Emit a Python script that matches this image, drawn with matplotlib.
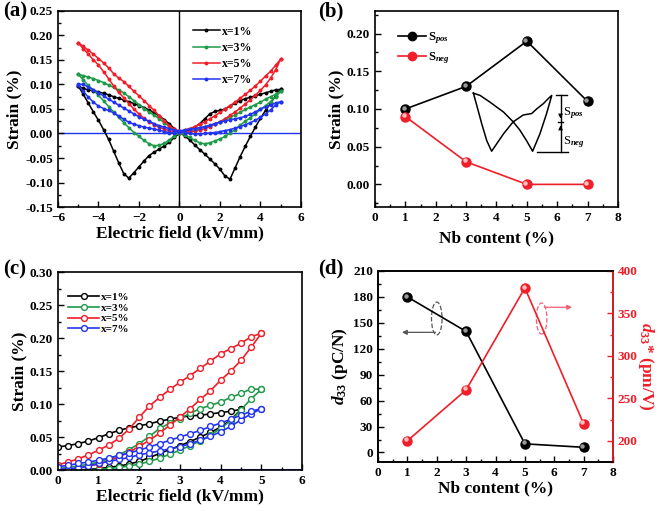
import numpy as np
import matplotlib
matplotlib.use("Agg")
import matplotlib.pyplot as plt
from matplotlib.patches import Ellipse
from matplotlib.ticker import MultipleLocator
from matplotlib.transforms import offset_copy

plt.rcParams['font.family'] = 'Liberation Serif'
plt.rcParams['font.weight'] = 'bold'
plt.rcParams['axes.labelweight'] = 'bold'
plt.rcParams['mathtext.fontset'] = 'custom'
plt.rcParams['mathtext.rm'] = 'Liberation Serif:bold'
plt.rcParams['mathtext.it'] = 'Liberation Serif:italic:bold'
plt.rcParams['mathtext.bf'] = 'Liberation Serif:bold'

# ---------------- data ----------------
labels = ['x=1%', 'x=3%', 'x=5%', 'x=7%']
colors = ['#000000', '#1e9a48', '#f01e28', '#2233f0']

# |E| grid (kV/mm) for the bipolar loops (a) and unipolar loops (c)
field = [0, 0.25, 0.5, 0.75, 1.0, 1.25, 1.5, 1.75, 2.0, 2.25, 2.5,
         2.75, 3.0, 3.25, 3.5, 3.75, 4.0, 4.25, 4.5, 4.75, 5.0]

# (a) bipolar strain (%), branches given along |E|
# right_low: 0 -> +5, right_up: +5 -> 0, left_low: 0 -> -5, left_up: -5 -> 0
a_right_low = [
    [0.003, -0.005, -0.013, -0.023, -0.033, -0.042, -0.052, -0.062, -0.073, -0.087, -0.093,
     -0.070, -0.047, -0.026, -0.006, 0.013, 0.031, 0.047, 0.062, 0.077, 0.090],
    [0.002, -0.003, -0.008, -0.014, -0.019, -0.021, -0.019, -0.015, -0.011, -0.006, 0.001,
     0.008, 0.017, 0.025, 0.032, 0.040, 0.049, 0.057, 0.065, 0.075, 0.086],
    [0.005, 0.004, 0.004, 0.005, 0.007, 0.010, 0.014, 0.019, 0.024, 0.030, 0.037,
     0.044, 0.052, 0.060, 0.069, 0.078, 0.088, 0.099, 0.113, 0.130, 0.152],
    [0.005, 0.002, 0.000, -0.001, -0.001, 0.000, 0.001, 0.002, 0.004, 0.006, 0.008,
     0.011, 0.014, 0.018, 0.022, 0.027, 0.033, 0.040, 0.048, 0.058, 0.065],
]
a_right_up = [
    [0.003, 0.004, 0.008, 0.013, 0.020, 0.030, 0.040, 0.045, 0.047, 0.050, 0.056,
     0.062, 0.067, 0.071, 0.074, 0.077, 0.080, 0.083, 0.086, 0.089, 0.090],
    [0.002, 0.002, 0.004, 0.007, 0.010, 0.013, 0.016, 0.020, 0.024, 0.029, 0.033,
     0.038, 0.043, 0.049, 0.054, 0.059, 0.064, 0.070, 0.075, 0.080, 0.086],
    [0.005, 0.007, 0.010, 0.014, 0.019, 0.024, 0.030, 0.036, 0.043, 0.050, 0.057,
     0.064, 0.072, 0.080, 0.088, 0.097, 0.107, 0.117, 0.127, 0.139, 0.152],
    [0.005, 0.007, 0.009, 0.010, 0.012, 0.014, 0.017, 0.020, 0.023, 0.026, 0.028,
     0.030, 0.032, 0.035, 0.039, 0.044, 0.050, 0.054, 0.058, 0.062, 0.065],
]
a_left_low = [
    [0.000, -0.008, -0.018, -0.025, -0.032, -0.038, -0.045, -0.056, -0.068, -0.080, -0.091,
     -0.082, -0.060, -0.036, -0.012, 0.008, 0.027, 0.044, 0.062, 0.080, 0.097],
    [0.002, -0.005, -0.013, -0.020, -0.024, -0.025, -0.021, -0.014, -0.006, 0.002, 0.012,
     0.022, 0.033, 0.044, 0.055, 0.067, 0.078, 0.088, 0.098, 0.109, 0.121],
    [0.004, 0.004, 0.006, 0.009, 0.013, 0.018, 0.024, 0.031, 0.040, 0.050, 0.061,
     0.073, 0.084, 0.097, 0.112, 0.126, 0.140, 0.150, 0.162, 0.173, 0.185],
    [0.004, 0.001, 0.002, 0.004, 0.007, 0.009, 0.011, 0.013, 0.016, 0.019, 0.023,
     0.029, 0.036, 0.042, 0.047, 0.051, 0.056, 0.064, 0.074, 0.086, 0.099],
]
a_left_up = [
    [0.003, 0.010, 0.020, 0.028, 0.036, 0.042, 0.048, 0.053, 0.057, 0.061, 0.065,
     0.068, 0.072, 0.075, 0.079, 0.082, 0.085, 0.087, 0.089, 0.092, 0.097],
    [0.002, 0.007, 0.014, 0.022, 0.030, 0.037, 0.044, 0.051, 0.059, 0.067, 0.075,
     0.083, 0.089, 0.094, 0.099, 0.104, 0.108, 0.112, 0.115, 0.118, 0.121],
    [0.004, 0.009, 0.016, 0.026, 0.036, 0.047, 0.057, 0.067, 0.077, 0.086, 0.096,
     0.106, 0.113, 0.122, 0.134, 0.144, 0.153, 0.162, 0.170, 0.178, 0.185],
    [0.004, 0.007, 0.010, 0.013, 0.016, 0.020, 0.025, 0.029, 0.034, 0.040, 0.046,
     0.052, 0.058, 0.064, 0.070, 0.077, 0.083, 0.089, 0.095, 0.100, 0.101],
]

# (b)
nb = [1, 3, 5, 7]
s_pos = [0.10, 0.13, 0.19, 0.11]
s_neg = [0.09, 0.03, 0.00, 0.00]
# inset sketch of a butterfly loop, in panel (b) data units
sketch_x = [3.24, 3.35, 3.51, 3.68, 3.84, 4.01, 4.23, 4.55, 4.88, 5.16, 5.32, 5.54, 5.71, 5.82,
            5.65, 5.43, 5.19, 4.99, 4.77, 4.55, 4.23, 3.79, 3.46, 3.24]
sketch_y = [0.121, 0.105, 0.081, 0.058, 0.044, 0.054, 0.067, 0.083, 0.092, 0.094, 0.100, 0.107,
            0.114, 0.118, 0.094, 0.067, 0.044, 0.058, 0.072, 0.083, 0.096, 0.109, 0.118, 0.121]

# (c) unipolar strain (%): rising 0 -> 5 and falling 5 -> 0, along E
c_rise = [
    [0.000, 0.000, 0.000, 0.001, 0.002, 0.004, 0.006, 0.009, 0.013, 0.019, 0.025,
     0.031, 0.037, 0.043, 0.050, 0.057, 0.065, 0.076, 0.092],
    [0.000, 0.000, 0.000, 0.000, 0.001, 0.002, 0.004, 0.006, 0.009, 0.013, 0.018,
     0.024, 0.030, 0.037, 0.044, 0.053, 0.063, 0.075, 0.091, 0.108, 0.122],
    [0.000, 0.001, 0.003, 0.006, 0.009, 0.014, 0.020, 0.027, 0.036, 0.045, 0.056,
     0.068, 0.080, 0.093, 0.107, 0.120, 0.136, 0.150, 0.166, 0.186, 0.207],
    [0.001, 0.002, 0.003, 0.006, 0.010, 0.013, 0.016, 0.019, 0.023, 0.026, 0.029,
     0.032, 0.035, 0.040, 0.045, 0.051, 0.058, 0.066, 0.076, 0.085, 0.093],
]
c_fall = [
    [0.035, 0.037, 0.040, 0.044, 0.049, 0.055, 0.060, 0.064, 0.067, 0.070, 0.074,
     0.077, 0.080, 0.082, 0.083, 0.085, 0.087, 0.089, 0.092],
    [0.002, 0.004, 0.006, 0.009, 0.012, 0.017, 0.023, 0.031, 0.040, 0.051, 0.063,
     0.071, 0.078, 0.086, 0.093, 0.098, 0.103, 0.110, 0.116, 0.123, 0.122],
    [0.008, 0.012, 0.017, 0.023, 0.030, 0.038, 0.048, 0.062, 0.080, 0.097, 0.110,
     0.122, 0.133, 0.143, 0.154, 0.165, 0.176, 0.184, 0.192, 0.202, 0.207],
    [0.005, 0.007, 0.010, 0.012, 0.015, 0.018, 0.022, 0.026, 0.030, 0.035, 0.040,
     0.045, 0.050, 0.055, 0.060, 0.066, 0.071, 0.077, 0.083, 0.089, 0.093],
]

# (d)
d33 = [180, 140, 10, 6]
d33_star = [200, 260, 380, 220]

LAB = 12.5


def style(ax, xmaj, xmin, ymaj, ymin):
    ax.xaxis.set_major_locator(MultipleLocator(xmaj))
    ax.xaxis.set_minor_locator(MultipleLocator(xmin))
    ax.yaxis.set_major_locator(MultipleLocator(ymaj))
    ax.yaxis.set_minor_locator(MultipleLocator(ymin))
    ax.tick_params(which='both', direction='in', labelsize=9.5, width=1)
    ax.tick_params(which='major', length=4)
    ax.tick_params(which='minor', length=2)
    for s in ax.spines.values():
        s.set_linewidth(1.2)


def balls(ax, x, y, c, hl):
    ax.plot(x, y, '-', color=c, lw=1.2, marker='o', ms=6.5, mfc=c, mec=c, zorder=3)
    tr = offset_copy(ax.transData, fig=fig, x=-1.0, y=1.0, units='points')
    ax.plot(x, y, 'o', ms=2.2, color=hl, transform=tr, zorder=4)


fig = plt.figure(figsize=(6.61, 5.11), dpi=100)

# ---------------- (a) ----------------
ax = fig.add_axes([0.0877, 0.5949, 0.3676, 0.3836])
f = np.array(field)
for i in range(4):
    e = np.concatenate([f, f[::-1], -f, -f[::-1]])
    s = np.concatenate([a_right_low[i], a_right_up[i][::-1], a_left_low[i], a_left_up[i][::-1]])
    ax.plot(e, s, '-', color=colors[i], lw=1.1, marker='o', ms=1.8, label=labels[i])
ax.axhline(0, color='#2233f0', lw=1.0, zorder=0)
ax.axvline(0, color='black', lw=1.0, zorder=0)
ax.set_xlim(-6, 6)
ax.set_ylim(-0.15, 0.25)
style(ax, 2, 1, 0.05, 0.025)
ax.yaxis.set_major_formatter(matplotlib.ticker.FormatStrFormatter('%.2f'))
ax.set_xlabel('Electric field (kV/mm)', fontsize=LAB, labelpad=1)
ax.set_ylabel('Strain (%)', fontsize=LAB, labelpad=2)
ax.legend(loc='upper left', bbox_to_anchor=(0.51, 0.98), frameon=False, fontsize=8.5,
          handlelength=2.3, labelspacing=0.35, handletextpad=0.2)

# ---------------- (b) ----------------
ax = fig.add_axes([0.5673, 0.5949, 0.3676, 0.3836])
balls(ax, nb, s_pos, 'black', '#9a9a9a')
balls(ax, nb, s_neg, '#f01e28', '#ffc0c0')
ax.plot(sketch_x, sketch_y, '-', color='black', lw=1.1)
# S_pos / S_neg markers on the sketch
ax.plot([6.11, 6.11], [0.118, 0.043], color='black', lw=1.0)
ax.plot([5.96, 6.33], [0.118, 0.118], color='black', lw=1.0)
ax.plot([5.32, 6.36], [0.043, 0.043], color='black', lw=1.0)
ax.plot([6.02, 6.20], [0.0827, 0.0827], color='black', lw=1.0)
ax.annotate('', xy=(6.11, 0.0835), xytext=(6.11, 0.095),
            arrowprops=dict(arrowstyle='-|>', color='black', lw=0.8, mutation_scale=6))
ax.annotate('', xy=(6.11, 0.082), xytext=(6.11, 0.072),
            arrowprops=dict(arrowstyle='-|>', color='black', lw=0.8, mutation_scale=6))
ax.text(6.2, 0.094, r'S$_{pos}$', fontsize=9, fontweight='normal', va='center')
ax.text(6.2, 0.056, r'S$_{neg}$', fontsize=9, fontweight='normal', va='center')
ax.set_xlim(0, 8)
ax.set_ylim(-0.03, 0.23)
style(ax, 1, 0.5, 0.05, 0.025)
ax.yaxis.set_major_formatter(matplotlib.ticker.FormatStrFormatter('%.2f'))
ax.set_xlabel('Nb content (%)', fontsize=LAB, labelpad=5)
ax.set_ylabel('Strain (%)', fontsize=LAB, labelpad=2)
hb = [plt.Line2D([], [], color='black', lw=1.2, marker='o', ms=6),
      plt.Line2D([], [], color='#f01e28', lw=1.2, marker='o', ms=6)]
ax.legend(hb, [r'S$_{pos}$', r'S$_{neg}$'], loc='upper left', bbox_to_anchor=(0.05, 0.96),
          frameon=False, fontsize=9, handlelength=2.2, labelspacing=0.4, handletextpad=0.2)

# ---------------- (c) ----------------
ax = fig.add_axes([0.0877, 0.0802, 0.3691, 0.3875])
for i in range(4):
    n = len(c_rise[i])
    e = np.concatenate([f[:n], f[:n][::-1]])
    s = np.concatenate([c_rise[i], c_fall[i][::-1]])
    ax.plot(e, s, '-', color=colors[i], lw=1.2, marker='o', ms=4.2, mfc='white',
            mec=colors[i], mew=1.0, label=labels[i])
ax.axhline(0, color='#2233f0', lw=1.5, zorder=0)
ax.set_xlim(0, 6)
ax.set_ylim(0, 0.30)
style(ax, 1, 0.5, 0.05, 0.025)
ax.yaxis.set_major_formatter(matplotlib.ticker.FormatStrFormatter('%.2f'))
ax.set_xlabel('Electric field (kV/mm)', fontsize=LAB, labelpad=1)
ax.set_ylabel('Strain (%)', fontsize=LAB, labelpad=2)
ax.legend(loc='upper left', bbox_to_anchor=(0.0, 0.95), frameon=False, fontsize=8,
          handlelength=2.8, labelspacing=0.1, handletextpad=0.2)

# ---------------- (d) ----------------
ax = fig.add_axes([0.5719, 0.0959, 0.3555, 0.3738])
ax2 = ax.twinx()
balls(ax, nb, d33, 'black', '#9a9a9a')
balls(ax2, nb, d33_star, '#f01e28', '#ffc0c0')
ax.set_xlim(0, 8)
ax.set_ylim(-11, 210)
ax2.set_ylim(175, 400)
style(ax, 1, 0.5, 30, 15)
style(ax2, 1, 0.5, 50, 25)
ax2.spines['right'].set_color('#f01e28')
ax2.tick_params(axis='y', which='both', colors='#f01e28')
ax.set_xlabel('Nb content (%)', fontsize=LAB, labelpad=1)
ax.set_ylabel(r'$d_{33}$ (pC/N)', fontsize=LAB, labelpad=2)
ax2.set_ylabel(r'$d_{33}$* (pm/V)', fontsize=LAB, color='#f01e28', rotation=270, labelpad=13)
ax.add_patch(Ellipse((2.0, 155), 0.36, 38, fill=False, ls='--', lw=0.9, ec='#555555'))
ax.annotate('', xy=(0.72, 139), xytext=(2.05, 139),
            arrowprops=dict(arrowstyle='-|>', color='#555555', lw=0.9, mutation_scale=7))
ax.add_patch(Ellipse((5.57, 155), 0.36, 36, fill=False, ls='--', lw=0.9, ec='#f06070'))
ax.annotate('', xy=(6.7, 168), xytext=(5.57, 168),
            arrowprops=dict(arrowstyle='-|>', color='#f06070', lw=0.9, mutation_scale=7))

# panel labels
fig.text(0.004, 0.977, '(a)', fontsize=15, fontweight='bold', va='center')
fig.text(0.481, 0.977, '(b)', fontsize=15, fontweight='bold', va='center')
fig.text(0.004, 0.472, '(c)', fontsize=15, fontweight='bold', va='center')
fig.text(0.481, 0.475, '(d)', fontsize=15, fontweight='bold', va='center')

fig.savefig('out.png', dpi=100)
